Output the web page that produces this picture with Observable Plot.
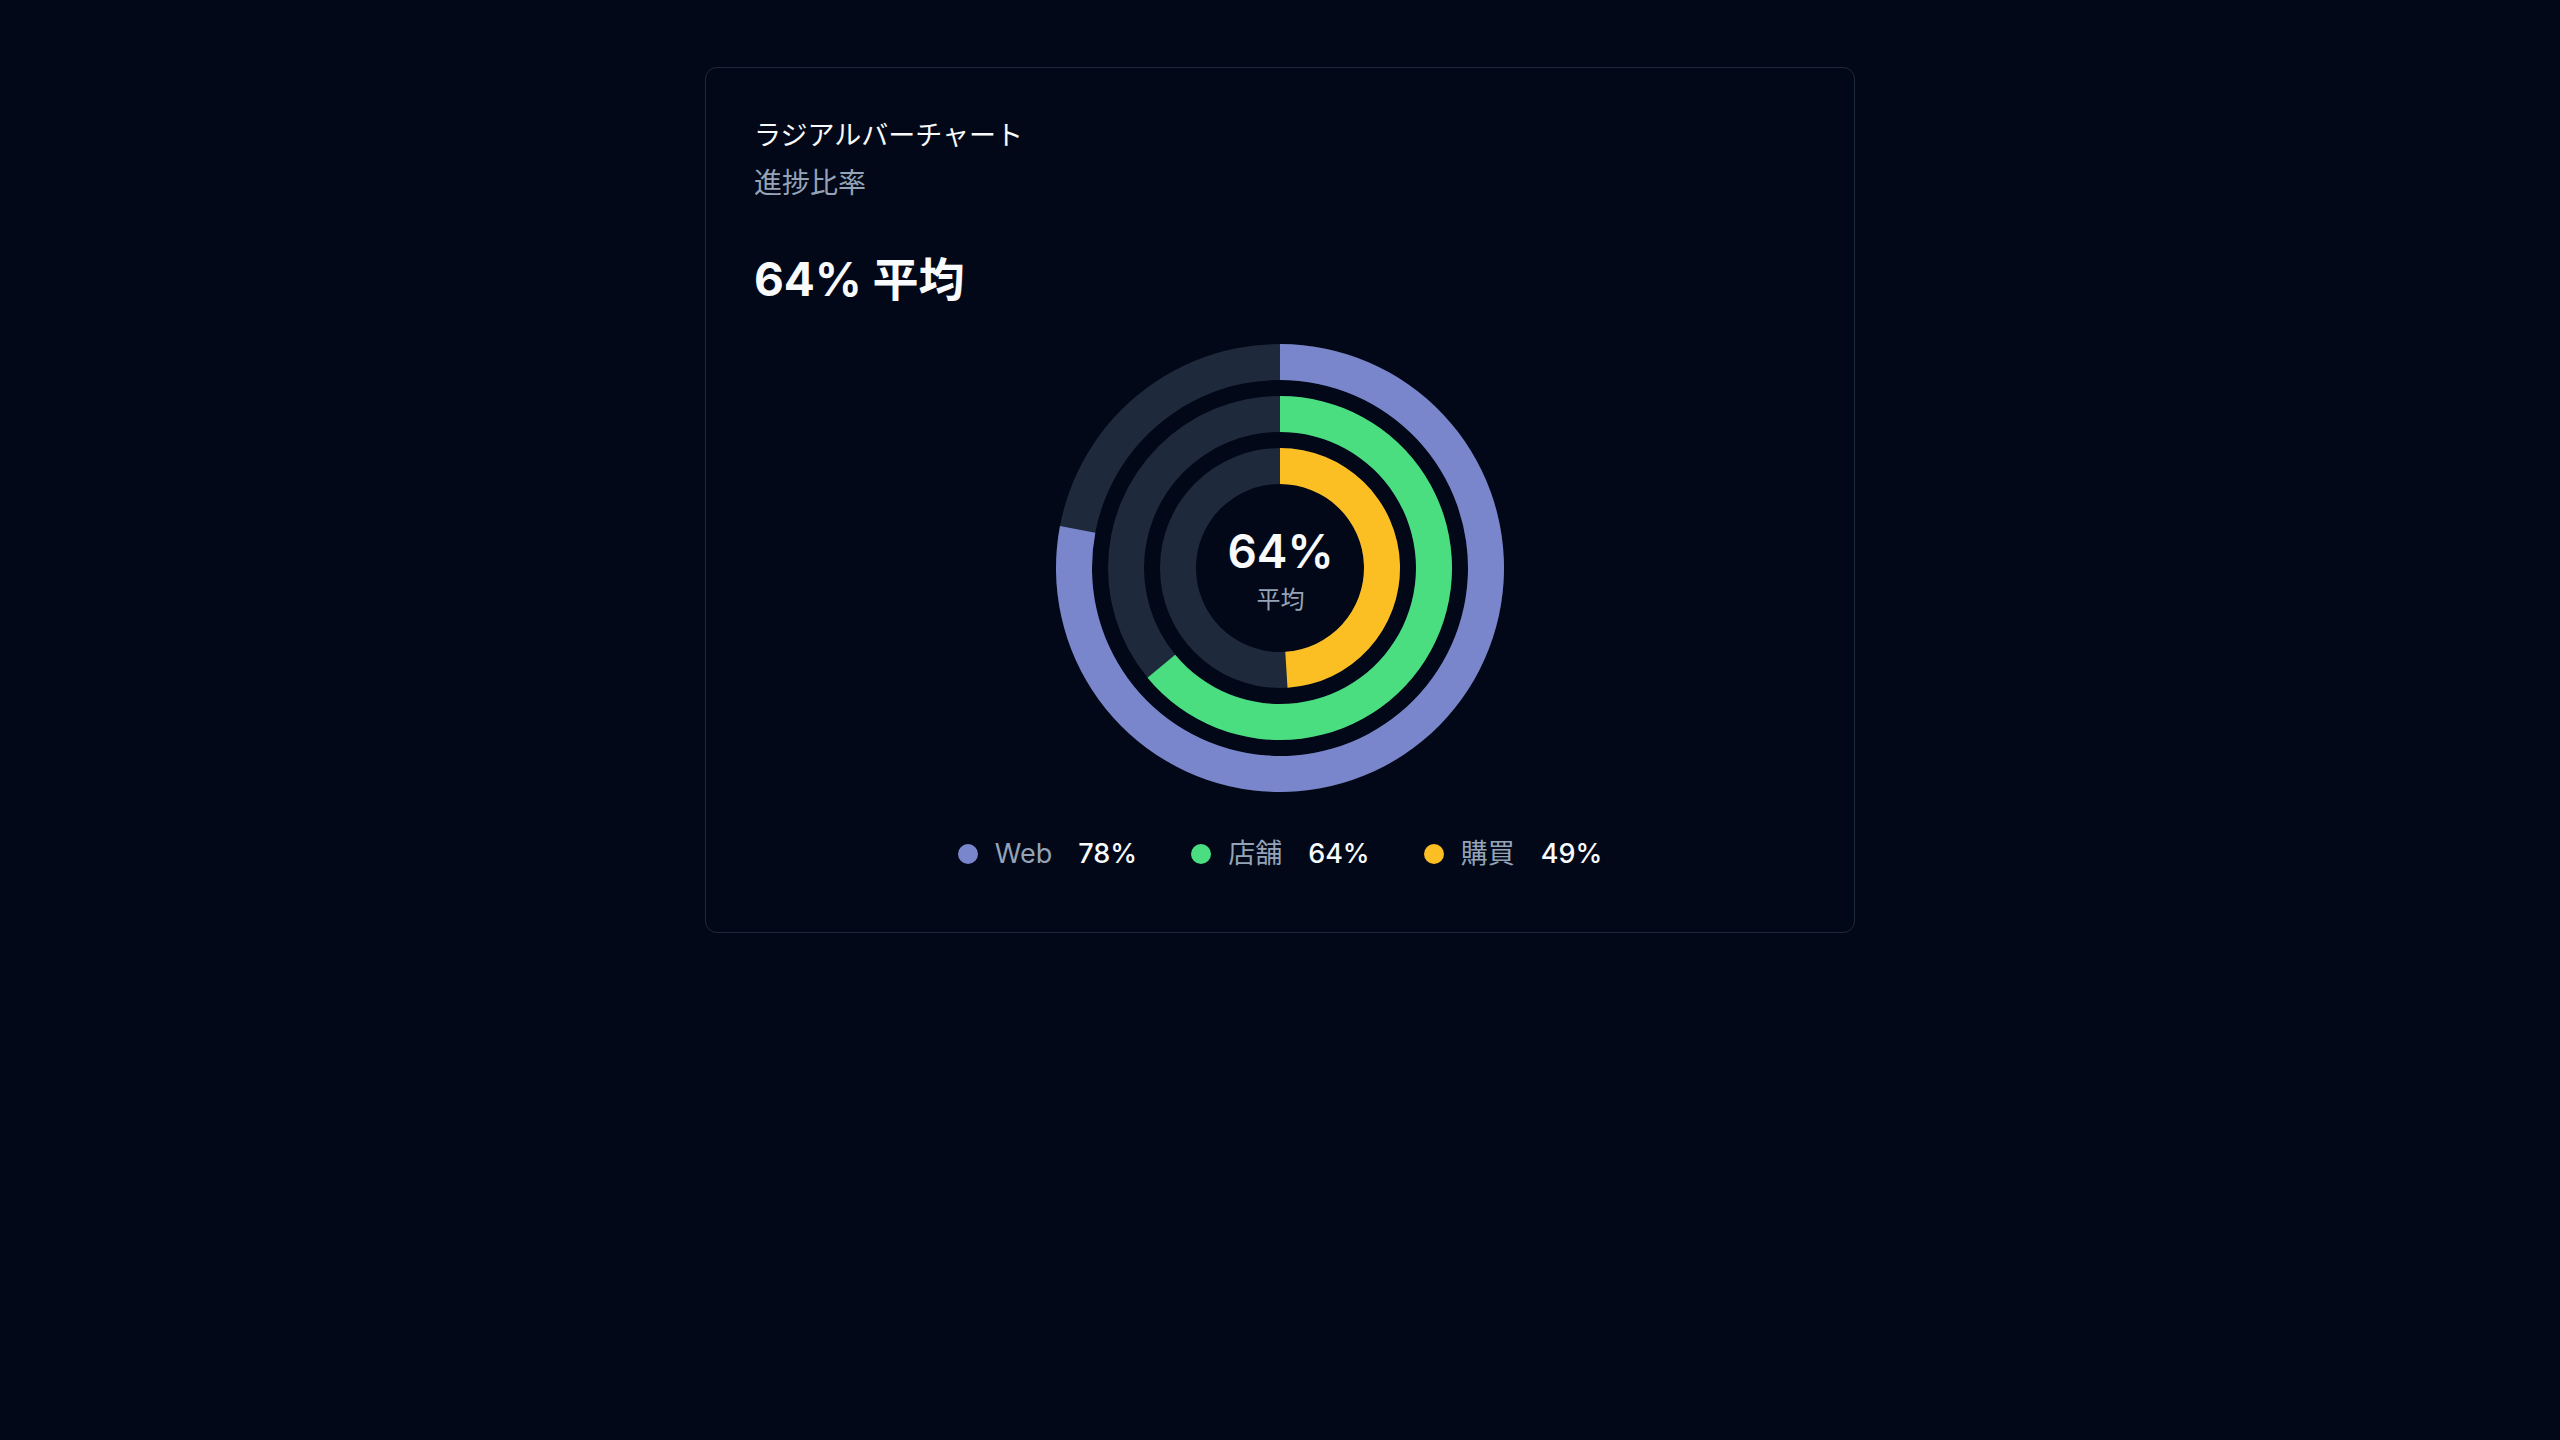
<!DOCTYPE html>
<html>
<head>
<meta charset="utf-8">
<script src="https://cdn.jsdelivr.net/npm/d3@7"></script>
<script src="https://cdn.jsdelivr.net/npm/@observablehq/plot@0.6"></script>
<style>
  html, body { margin: 0; padding: 0; background: #020817; }
  body { width: 2560px; height: 1440px; position: relative; font-family: Inter, "Noto Sans CJK JP", sans-serif; }
  .card { position: absolute; left: 705px; top: 67px; width: 1150px; height: 866px; box-sizing: border-box;
          border: 1px solid #1e293b; border-radius: 12px; background: #020817; }
  .t { position: absolute; left: 48px; white-space: nowrap; }
  #title { top: 54px; font-size: 27px; line-height: 27px; color: #f8fafc; font-weight: 400; }
  #subtitle { top: 101px; font-size: 28px; line-height: 28px; color: #94a3b8; font-weight: 400; }
  #headline { top: 188px; font-size: 46px; line-height: 46px; color: #f8fafc; font-weight: 700; }
  #chart { position: absolute; left: 48px; top: 260px; width: 1052px; }
  #legend { position: absolute; left: 0; right: 0; top: 772px; display: flex; justify-content: center; gap: 54px;
            font-size: 27px; line-height: 27px; }
  .item { display: flex; align-items: center; }
  .dot { width: 20px; height: 20px; border-radius: 50%; margin-right: 17px; }
  .lab { color: #94a3b8; font-weight: 400; margin-right: 26px; }
  .val { color: #f8fafc; font-weight: 500; }
</style>
</head>
<body>
<div class="card">
  <div class="t" id="title"></div>
  <div class="t" id="subtitle"></div>
  <div class="t" id="headline"></div>
  <div id="chart"></div>
  <div id="legend"></div>
</div>
<script>
// ---- data ----
const titleText = "ラジアルバーチャート";
const subtitleText = "進捗比率";
const averageLabel = "平均";
const categories = ["Web", "店舗", "購買"];
const values = [78, 64, 49];

// ---- derived ----
const avg = Math.round(d3.mean(values));
const data = categories.map((c, i) => ({category: c, value: values[i]}));

document.getElementById("title").textContent = titleText;
document.getElementById("subtitle").textContent = subtitleText;
document.getElementById("headline").textContent = `${avg}% ${averageLabel}`;

// ---- scales (Observable Plot) ----
const angle = Plot.scale({x: {type: "linear", domain: [0, 100], range: [0, 2 * Math.PI]}});
const ring = Plot.scale({y: {type: "band", domain: categories, range: [224, 84], paddingInner: 16 / 52, paddingOuter: 0, round: false}});
const color = Plot.scale({color: {type: "ordinal", domain: categories, range: ["#7986cb", "#4ade80", "#fbbf24"]}});
const trackColor = "#1e293b";

// ---- radial bar mark ----
function radialBars(index, scales, values_, dims) {
  const g = d3.create("svg:g")
    .attr("transform", `translate(${dims.width / 2},${dims.height / 2})`);
  const bw = ring.bandwidth;
  for (const d of data) {
    const r0 = ring.apply(d.category);
    const arc = d3.arc().innerRadius(r0).outerRadius(r0 + bw).startAngle(0);
    g.append("path").attr("d", arc.endAngle(2 * Math.PI)()).attr("fill", trackColor);
    g.append("path").attr("d", arc.endAngle(angle.apply(d.value))()).attr("fill", color.apply(d.category));
  }
  return g.node();
}

const plot = Plot.plot({
  width: 1052,
  height: 480,
  margin: 0,
  style: {background: "transparent", fontFamily: 'Inter, "Noto Sans CJK JP", sans-serif', overflow: "visible"},
  marks: [
    radialBars,
    Plot.text([avg], {text: d => `${d}%`, frameAnchor: "middle", dy: -15, fontSize: 46, fontWeight: 600, fill: "#f8fafc"}),
    Plot.text([averageLabel], {text: d => d, frameAnchor: "middle", dy: 32, fontSize: 24, fill: "#94a3b8"})
  ]
});
document.getElementById("chart").appendChild(plot);

// ---- legend ----
const legend = d3.select("#legend");
for (const d of data) {
  const item = legend.append("div").attr("class", "item");
  item.append("div").attr("class", "dot").style("background", color.apply(d.category));
  item.append("span").attr("class", "lab").text(d.category);
  item.append("span").attr("class", "val").text(`${d.value}%`);
}
</script>
</body>
</html>
